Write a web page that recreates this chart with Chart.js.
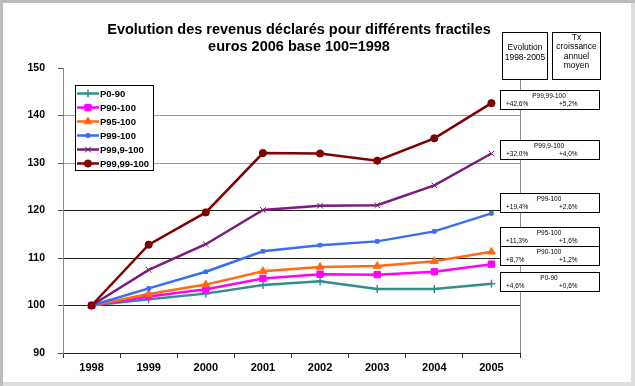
<!DOCTYPE html>
<html>
<head>
<meta charset="utf-8">
<script src="https://cdn.jsdelivr.net/npm/chart.js@4/dist/chart.umd.min.js"></script>
<style>
  body { margin: 0; background: #fff; }
  #wrap { width: 635px; height: 386px; }
</style>
</head>
<body>
<div id="wrap"><canvas id="myChart" width="635" height="386"></canvas></div>
<script>
const years = ["1998", "1999", "2000", "2001", "2002", "2003", "2004", "2005"];
const seriesNames = ["P0-90", "P90-100", "P95-100", "P99-100", "P99,9-100", "P99,99-100"];

const p0_90 = [100, 101.3, 102.5, 104.3, 105.1, 103.5, 103.5, 104.6];
const p90_100 = [100, 101.9, 103.4, 105.7, 106.6, 106.5, 107.1, 108.7];
const p95_100 = [100, 102.4, 104.4, 107.2, 108.1, 108.3, 109.3, 111.3];
const p99_100 = [100, 103.6, 107.1, 111.4, 112.7, 113.5, 115.6, 119.4];
const p999_100 = [100, 107.5, 112.9, 120.1, 121.0, 121.1, 125.3, 132.0];
const p9999_100 = [100, 112.8, 119.6, 132.1, 132.0, 130.5, 135.2, 142.6];

// evolution 1998-2005 et taux de croissance annuel moyen
const evolution = ["+4,6%", "+8,7%", "+11,3%", "+19,4%", "+32,0%", "+42,6%"];
const txAnnuel = ["+0,6%", "+1,2%", "+1,6%", "+2,6%", "+4,0%", "+5,2%"];

const FONT = "'Liberation Sans', Arial, sans-serif";

const styles = [
  { color: "#2f8f8c", pointStyle: "cross", radius: 4, borderWidth: 1.5 },
  { color: "#ff00ff", pointStyle: "rect", radius: 4.5, borderWidth: 1 },
  { color: "#ff6a13", pointStyle: "triangle", radius: 4.5, borderWidth: 1 },
  { color: "#3a6df0", pointStyle: "rect", radius: 2.5, borderWidth: 1 },
  { color: "#7d1a7d", pointStyle: "crossRot", radius: 4, borderWidth: 1 },
  { color: "#800000", pointStyle: "circle", radius: 3.6, borderWidth: 1 },
];
const allSeries = [p0_90, p90_100, p95_100, p99_100, p999_100, p9999_100];

const datasets = allSeries.map((d, i) => ({
  label: seriesNames[i],
  data: d,
  borderColor: styles[i].color,
  backgroundColor: styles[i].color,
  pointBackgroundColor: styles[i].color,
  pointBorderColor: styles[i].color,
  pointStyle: styles[i].pointStyle,
  pointRadius: styles[i].radius,
  pointBorderWidth: styles[i].borderWidth,
  borderWidth: 2.5,
  tension: 0,
  order: 6 - i,
}));

// cadres de droite (haut de chaque cadre, en px)
const boxTops = [272, 246, 227, 193, 140, 90];

const extras = {
  id: "extras",
  beforeDraw(chart) {
    const c = chart.ctx;
    c.save();
    c.fillStyle = "#bcbcbc";
    c.fillRect(0, 0, 635, 386);
    c.fillStyle = "#dedede";
    c.fillRect(3, 3, 632, 383);
    c.fillStyle = "#fff";
    c.fillRect(3, 3, 628, 379);
    c.restore();
  },
  afterDatasetsDraw(chart) {
    const c = chart.ctx;
    const area = chart.chartArea;
    c.save();

    // titre
    c.fillStyle = "#000";
    c.textAlign = "center";
    c.textBaseline = "middle";
    c.font = "bold 14.5px " + FONT;
    c.fillText("Evolution des revenus déclarés pour différents fractiles", 299, 30);
    c.fillText("euros 2006 base 100=1998", 299, 47);

    // trait vertical a droite
    c.strokeStyle = "#8a8a8a";
    c.lineWidth = 1;
    c.beginPath();
    c.moveTo(520.5, 79);
    c.lineTo(520.5, area.bottom);
    c.stroke();

    // en-tetes
    c.strokeStyle = "#000";
    c.fillStyle = "#fff";
    c.fillRect(502, 32, 45, 47);
    c.strokeRect(502.5, 32.5, 45, 47);
    c.fillRect(552, 32, 48, 47);
    c.strokeRect(552.5, 32.5, 48, 47);
    c.fillStyle = "#000";
    c.font = "8.5px " + FONT;
    c.fillText("Evolution", 525, 48);
    c.fillText("1998-2005", 525, 57.5);
    c.fillText("Tx", 576.5, 37.5);
    c.fillText("croissance", 576.5, 47);
    c.fillText("annuel", 576.5, 56.5);
    c.fillText("moyen", 576.5, 66);

    // cadres par fractile
    seriesNames.forEach((name, i) => {
      const top = boxTops[i];
      c.fillStyle = "#fff";
      c.fillRect(500, top, 99, 19);
      c.strokeStyle = "#000";
      c.strokeRect(500.5, top + 0.5, 99, 19);
      c.fillStyle = "#000";
      c.font = "6.5px " + FONT;
      c.textAlign = "center";
      c.fillText(name, 549, top + 6);
      c.textAlign = "left";
      c.fillText(evolution[i], 506, top + 14);
      c.fillText(txAnnuel[i], 559, top + 14);
    });

    // legende
    const lx = 75, ly = 85;
    c.fillStyle = "#fff";
    c.fillRect(lx, ly, 78, 85);
    c.strokeStyle = "#000";
    c.strokeRect(lx + 0.5, ly + 0.5, 78, 85);
    chart.data.datasets.forEach((ds, i) => {
      const y = ly + 8.5 + i * 14;
      c.strokeStyle = ds.borderColor;
      c.lineWidth = 2.5;
      c.beginPath();
      c.moveTo(lx + 2, y);
      c.lineTo(lx + 24, y);
      c.stroke();
      c.fillStyle = ds.borderColor;
      c.lineWidth = ds.pointBorderWidth;
      Chart.helpers.drawPoint(c, {
        pointStyle: ds.pointStyle,
        radius: ds.pointRadius,
        rotation: 0,
        borderWidth: ds.pointBorderWidth,
      }, lx + 13, y);
      c.fillStyle = "#000";
      c.textAlign = "left";
      c.font = "bold 9.5px " + FONT;
      c.fillText(ds.label, lx + 25, y + 0.5);
    });

    c.restore();
  },
};

new Chart(document.getElementById("myChart"), {
  type: "line",
  data: { labels: years, datasets: datasets },
  options: {
    responsive: false,
    animation: false,
    layout: { padding: { left: 0, right: 115, top: 68, bottom: 0 } },
    plugins: {
      legend: { display: false },
      title: { display: false },
      tooltip: { enabled: false },
    },
    scales: {
      x: {
        offset: true,
        grid: { offset: true, drawOnChartArea: false, drawTicks: true, tickLength: 5, tickColor: "#333" },
        border: { color: "#222", width: 1 },
        ticks: { color: "#000", font: { family: FONT, size: 11, weight: "bold" }, padding: 3, maxRotation: 0 },
        afterFit: (s) => { s.height = 33; },
      },
      y: {
        min: 90,
        max: 150,
        grid: {
          tickLength: 5,
          tickColor: "#555",
          color: (ctx) => ctx.tick.value === 150 ? "rgba(0,0,0,0)" : ctx.tick.value >= 130 ? "#9a9a9a" : "#222",
        },
        border: { color: "#8a8a8a", width: 1 },
        ticks: { stepSize: 10, color: "#000", font: { family: FONT, size: 10.5, weight: "bold" }, padding: 13 },
        afterFit: (s) => { s.width = 63; },
      },
    },
  },
  plugins: [extras],
});
</script>
</body>
</html>
